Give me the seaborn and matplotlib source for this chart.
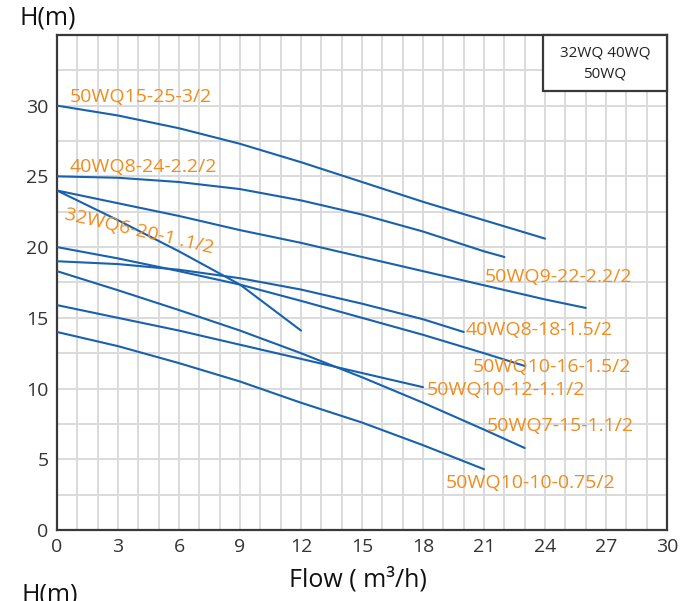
import numpy as np
import pandas as pd
import seaborn as sns
import matplotlib.pyplot as plt
from matplotlib.patches import Rectangle
from matplotlib.ticker import MultipleLocator

# curve data (flow m3/h, head m)
models = ["50WQ15-25-3/2", "40WQ8-24-2.2/2", "50WQ9-22-2.2/2", "32WQ6-20-1.1/2",
          "40WQ8-18-1.5/2", "50WQ10-16-1.5/2", "50WQ7-15-1.1/2",
          "50WQ10-12-1.1/2", "50WQ10-10-0.75/2"]
flow_15_25 = [0, 3, 6, 9, 12, 15, 18, 21, 24]
head_15_25 = [30.0, 29.3, 28.4, 27.3, 26.0, 24.6, 23.2, 21.9, 20.6]
flow_8_24 = [0, 3, 6, 9, 12, 15, 18, 21, 22]
head_8_24 = [25.0, 24.9, 24.6, 24.1, 23.3, 22.3, 21.1, 19.7, 19.3]
flow_9_22 = [0, 3, 6, 9, 12, 15, 18, 21, 24, 26]
head_9_22 = [24.0, 23.1, 22.2, 21.2, 20.3, 19.3, 18.3, 17.3, 16.3, 15.7]
flow_6_20 = [0, 3, 6, 9, 12]
head_6_20 = [24.0, 21.9, 19.7, 17.35, 14.1]
flow_8_18 = [0, 3, 6, 9, 12, 15, 18, 20]
head_8_18 = [19.0, 18.8, 18.4, 17.8, 17.0, 16.0, 14.9, 14.0]
flow_10_16 = [0, 3, 6, 9, 12, 15, 18, 21, 23]
head_10_16 = [20.0, 19.2, 18.3, 17.35, 16.2, 15.0, 13.8, 12.5, 11.6]
flow_7_15 = [0, 3, 6, 9, 12, 15, 18, 21, 23]
head_7_15 = [18.3, 16.95, 15.55, 14.1, 12.5, 10.8, 9.0, 7.1, 5.8]
flow_10_12 = [0, 3, 6, 9, 12, 15, 18]
head_10_12 = [15.9, 15.0, 14.1, 13.1, 12.1, 11.1, 10.1]
flow_10_10 = [0, 3, 6, 9, 12, 15, 18, 21]
head_10_10 = [14.0, 13.0, 11.8, 10.5, 9.0, 7.6, 6.0, 4.3]

flows = [flow_15_25, flow_8_24, flow_9_22, flow_6_20, flow_8_18,
         flow_10_16, flow_7_15, flow_10_12, flow_10_10]
heads = [head_15_25, head_8_24, head_9_22, head_6_20, head_8_18,
         head_10_16, head_7_15, head_10_12, head_10_10]

# label text and anchor (flow, head)
label_text = ["50WQ15-25-3/2", "40WQ8-24-2.2/2", "50WQ9-22-2.2/2",
              "40WQ8-18-1.5/2", "50WQ10-16-1.5/2", "50WQ10-12-1.1/2",
              "50WQ7-15-1.1/2", "50WQ10-10-0.75/2"]
label_x = [0.64, 0.64, 21.05, 20.1, 20.45, 18.2, 21.15, 19.1]
label_y = [30.64, 25.69, 17.9, 14.15, 11.54, 9.9, 7.36, 3.33]

blue = "#1862ad"
orange = "#f28c1c"
dark = "#3b3838"

df = pd.concat([pd.DataFrame({"model": m, "flow": f, "head": h})
                for m, f, h in zip(models, flows, heads)], ignore_index=True)

sns.set_style("white")
plt.rcParams['font.family'] = ['Open Sans', 'DejaVu Sans']

fig = plt.figure(figsize=(6.8, 6.01), dpi=100)
ax = fig.add_axes([0.0838, 0.118, 0.8972, 0.824])

sns.lineplot(data=df, x="flow", y="head", hue="model", units="model",
             estimator=None, palette={m: blue for m in models},
             legend=False, linewidth=1.5, ax=ax, zorder=3)

ax.set_xlim(0, 30)
ax.set_ylim(0, 35)
ax.set_xticks(np.arange(0, 31, 3))
ax.set_yticks(np.arange(0, 31, 5))
ax.xaxis.set_minor_locator(MultipleLocator(1))
ax.yaxis.set_minor_locator(MultipleLocator(2.5))
ax.grid(True, which="both", color="#dadada", linewidth=1.4, zorder=0)
ax.set_axisbelow(True)
ax.tick_params(axis="both", which="major", direction="out", length=4,
               width=1.5, color=dark, labelsize=14, labelcolor="#333333", pad=2)
ax.tick_params(axis="both", which="minor", length=0)
for s in ax.spines.values():
    s.set_color(dark)
    s.set_linewidth(1.6)

ax.set_xlabel("")
ax.set_ylabel("")

for t, x, y in zip(label_text, label_x, label_y):
    ax.text(x, y, t, color=orange, fontsize=14, ha="left", va="center", zorder=4)
ax.text(0.39, 22.3, "32WQ6-20-1 .1/2", color=orange, fontsize=14, ha="left",
        va="center", rotation=-13, rotation_mode="anchor", zorder=4)

# model family box, top right
ax.add_patch(Rectangle((23.9, 31.0), 6.1, 4.0, facecolor="white",
                       edgecolor=dark, linewidth=1.6, zorder=5, clip_on=False))
ax.text(26.95, 33.75, "32WQ 40WQ", fontsize=11, color="#222222",
        ha="center", va="center", zorder=6)
ax.text(26.95, 32.2, "50WQ", fontsize=11, color="#222222",
        ha="center", va="center", zorder=6)

fig.text(0.029, 0.97, "H(m)", fontsize=18, color="#111111", ha="left", va="center")
fig.text(0.527, 0.035, "Flow ( m³/h)", fontsize=18, color="#111111",
         ha="center", va="center")
fig.text(0.032, 0.03, "H(m)", fontsize=18, color="#111111", ha="left", va="top")

fig.savefig("out.png", dpi=100, facecolor="white")
